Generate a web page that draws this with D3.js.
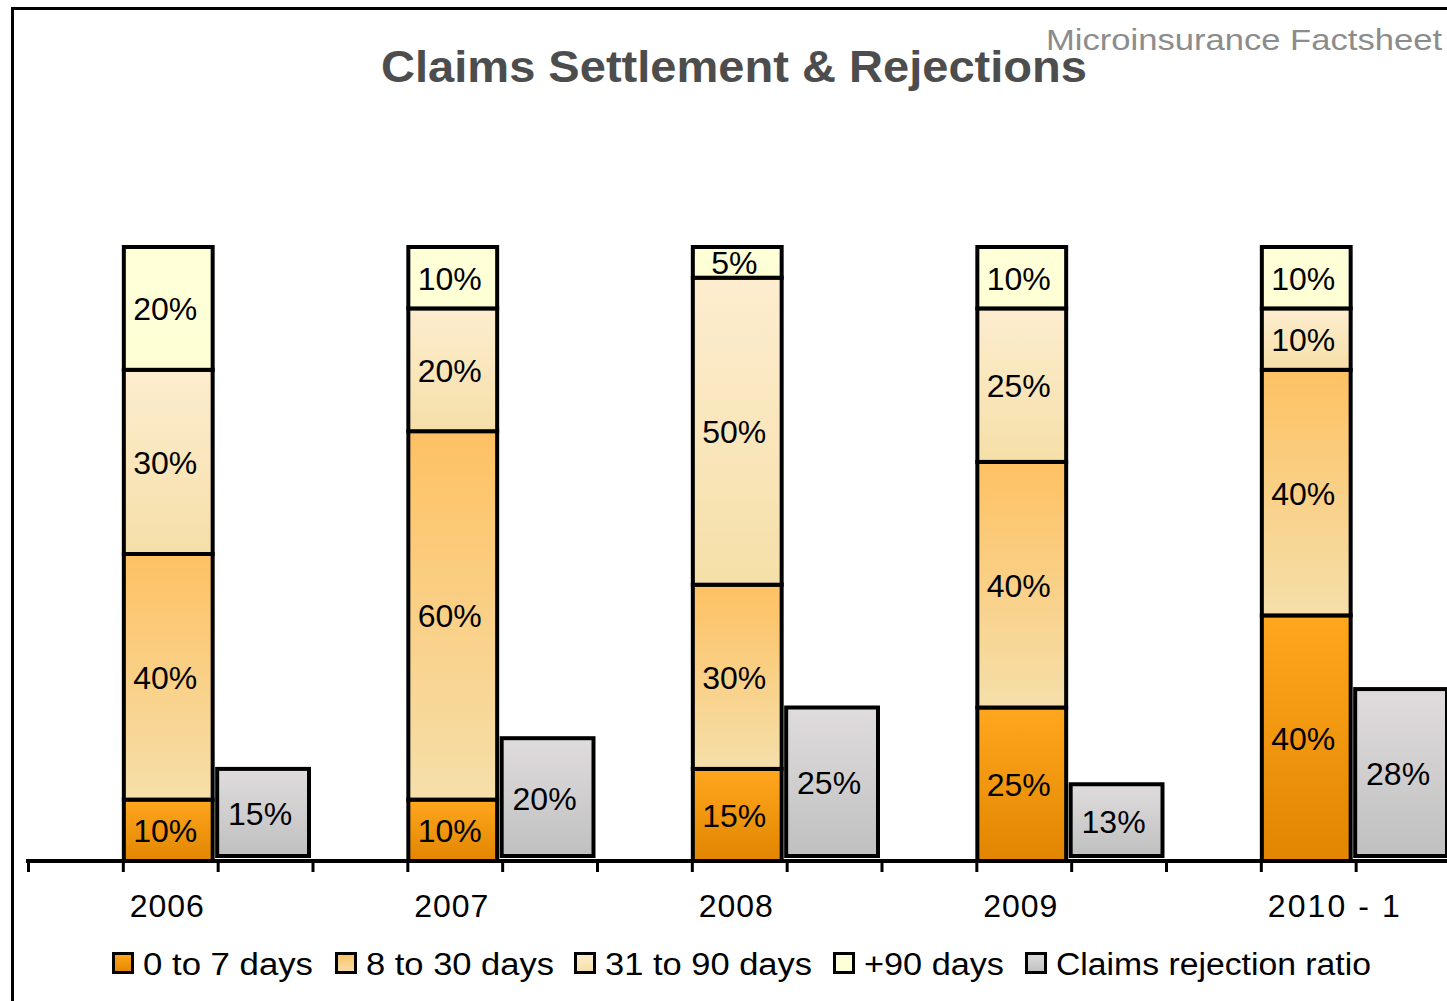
<!DOCTYPE html>
<html>
<head>
<meta charset="utf-8">
<script src="https://cdn.jsdelivr.net/npm/d3@7"></script>
<style>
  html, body { margin: 0; padding: 0; background: #fff; }
  svg { display: block; }
</style>
</head>
<body>
<svg id="chart" width="1447" height="1001"></svg>
<script>
// data
const years = ['2006', '2007', '2008', '2009', '2010  - 1'];
const series = ['0 to 7 days', '8 to 30 days', '31 to 90 days', '+90 days'];
const d0to7 = [10, 10, 15, 25, 40];
const d8to30 = [40, 60, 30, 40, 40];
const d31to90 = [30, 20, 50, 25, 10];
const d90plus = [20, 10, 5, 10, 10];
const rejection = [15, 20, 25, 12.5, 28];
const rejectionName = 'Claims rejection ratio';

const colors = [
  ['#ffa71e', '#e28500'],
  ['#fec163', '#f5dfaa'],
  ['#fdedcf', '#f5dfa8'],
  ['#ffffd9', '#ffffd6']
];
const grayColor = ['#e0dcde', '#c0c0c0'];

const svg = d3.select('#chart');
const font = '"Liberation Sans", Arial, sans-serif';

// gradients (vertical, per segment)
const defs = svg.append('defs');
function grad(id, c) {
  const g = defs.append('linearGradient').attr('id', id)
    .attr('x1', 0).attr('y1', 0).attr('x2', 0).attr('y2', 1);
  g.append('stop').attr('offset', '0%').attr('stop-color', c[0]);
  g.append('stop').attr('offset', '100%').attr('stop-color', c[1]);
}
colors.forEach((c, i) => grad('g' + i, c));
grad('gray', grayColor);

// outer frame (continues past right/bottom edges)
svg.append('rect')
  .attr('x', 12.5).attr('y', 8.5)
  .attr('width', 1500).attr('height', 1100)
  .attr('fill', 'none').attr('stroke', '#000').attr('stroke-width', 3);

// titles
svg.append('text')
  .attr('x', 734).attr('y', 82)
  .attr('text-anchor', 'middle')
  .attr('font-family', font).attr('font-weight', 'bold')
  .attr('font-size', 44).attr('fill', '#4d4d4d')
  .attr('textLength', 706).attr('lengthAdjust', 'spacingAndGlyphs')
  .text('Claims Settlement & Rejections');

svg.append('text')
  .attr('x', 1442).attr('y', 50)
  .attr('text-anchor', 'end')
  .attr('font-family', font)
  .attr('font-size', 30).attr('fill', '#8c8c8c')
  .attr('textLength', 396).attr('lengthAdjust', 'spacingAndGlyphs')
  .text('Microinsurance Factsheet');

// scales
const x = d3.scaleBand().domain(years).range([27, 27 + 5 * 284.5]);
const slot = d3.scaleBand().domain(['gap', 'stack', 'reject']).range([0, x.bandwidth()]);
const y = d3.scaleLinear().domain([0, 100]).range([861, 247]);

const rows = years.map((yr, i) => ({ year: yr, values: [d0to7[i], d8to30[i], d31to90[i], d90plus[i]], rej: rejection[i] }));
const stack = d3.stack().keys([0, 1, 2, 3]).value((d, k) => d.values[k])(rows);

const bars = svg.append('g');

// stacked bars
stack.forEach((layer, k) => {
  bars.selectAll('.s' + k)
    .data(layer)
    .join('rect')
    .attr('x', (d, i) => x(years[i]) + slot('stack') + 2)
    .attr('y', d => y(d[1]))
    .attr('width', slot.bandwidth() - 6)
    .attr('height', d => y(d[0]) - y(d[1]))
    .attr('fill', `url(#g${k})`)
    .attr('stroke', '#000').attr('stroke-width', 4);
});

// rejection bars
bars.selectAll('.rej')
  .data(rows)
  .join('rect')
  .attr('x', d => x(d.year) + slot('reject') + 0.5)
  .attr('y', d => y(d.rej))
  .attr('width', slot.bandwidth() - 3)
  .attr('height', d => y(0) - y(d.rej) - 5)
  .attr('fill', 'url(#gray)')
  .attr('stroke', '#000').attr('stroke-width', 4);

// labels
const labels = svg.append('g')
  .attr('font-family', font).attr('font-size', 32).attr('fill', '#000')
  .attr('text-anchor', 'middle');

stack.forEach((layer, k) => {
  labels.selectAll('.l' + k)
    .data(layer)
    .join('text')
    .attr('x', (d, i) => x(years[i]) + slot('stack') + slot.bandwidth() / 2 - 4)
    .attr('y', d => (y(d[0]) + y(d[1])) / 2 + 12)
    .text(d => (d[1] - d[0]) + '%');
});

labels.selectAll('.lr')
  .data(rows)
  .join('text')
  .attr('x', d => x(d.year) + slot('reject') + slot.bandwidth() / 2 - 4)
  .attr('y', d => (y(d.rej) + y(0)) / 2 + 10)
  .text(d => Math.round(d.rej) + '%');

// axis
const axisG = svg.append('g');
axisG.append('line')
  .attr('x1', 26).attr('x2', 1447).attr('y1', 861).attr('y2', 861)
  .attr('stroke', '#000').attr('stroke-width', 4);
const tickXs = [];
years.forEach(yr => slot.domain().forEach(s => tickXs.push(x(yr) + slot(s))));
axisG.selectAll('.tick')
  .data(tickXs)
  .join('line')
  .attr('x1', d => d + 1.5).attr('x2', d => d + 1.5)
  .attr('y1', 861).attr('y2', 872)
  .attr('stroke', '#000').attr('stroke-width', 3);

axisG.selectAll('.yl')
  .data(years)
  .join('text')
  .attr('x', d => x(d) + slot('stack') + 8)
  .attr('y', 917)
  .attr('font-family', font).attr('font-size', 32)
  .attr('textLength', d => d.length > 4 ? 132 : 74)
  .attr('lengthAdjust', 'spacing')
  .text(d => d);

// legend
const legendItems = series.map((s, i) => ({ name: s, fill: `url(#g${i})` }))
  .concat([{ name: rejectionName, fill: 'url(#gray)' }]);
const legendXs = [112, 335, 574, 833, 1025];
const legendWidths = [170, 188, 207, 140, 315];
const legend = svg.append('g').attr('font-family', font).attr('font-size', 31);
const li = legend.selectAll('g')
  .data(legendItems)
  .join('g')
  .attr('transform', (d, i) => `translate(${legendXs[i]},0)`);
li.append('rect')
  .attr('x', 1.5).attr('y', 953.5).attr('width', 19).attr('height', 19)
  .attr('fill', d => d.fill).attr('stroke', '#000').attr('stroke-width', 3);
li.append('text')
  .attr('x', 31).attr('y', 975)
  .attr('textLength', (d, i) => legendWidths[i])
  .attr('lengthAdjust', 'spacingAndGlyphs')
  .text(d => d.name);
</script>
</body>
</html>
